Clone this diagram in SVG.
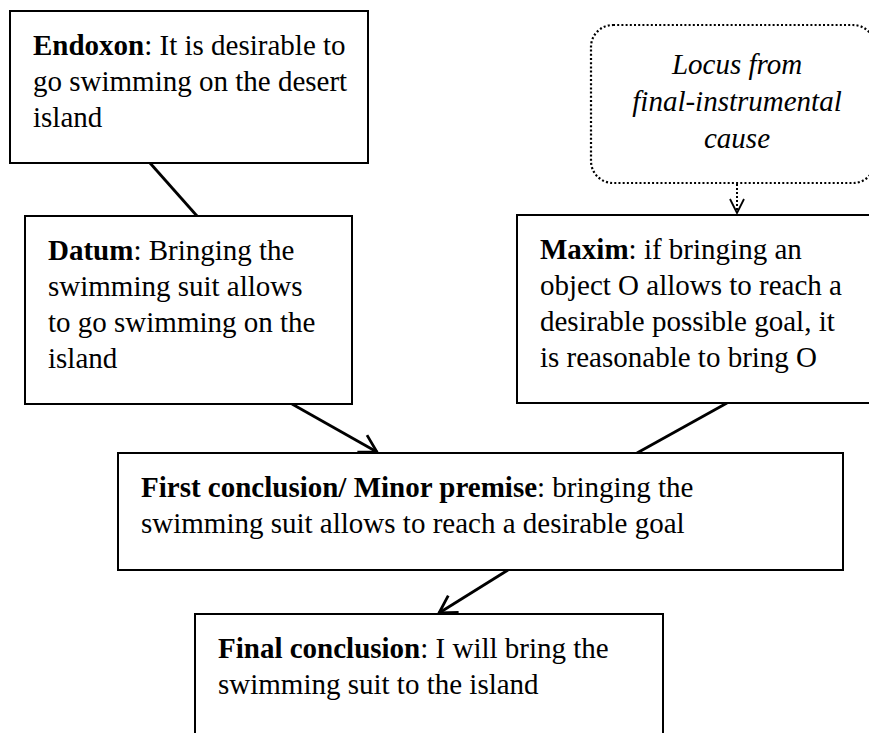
<svg xmlns="http://www.w3.org/2000/svg" width="869" height="733" viewBox="0 0 869 733">
  <style>
    .box { fill: #ffffff; stroke: #000000; stroke-width: 2; }
    .locus { fill: #ffffff; stroke: #000000; stroke-width: 2.2; stroke-dasharray: 2 2.2; }
    .txt { font-family: "Liberation Serif", "Times New Roman", serif; font-size: 29px; fill: #000000; }
    .ital { font-style: italic; text-anchor: middle; }
    .b { font-weight: bold; }
    .link { fill: none; stroke: #000000; stroke-width: 2.8; }
    .dotted { fill: none; stroke: #000000; stroke-width: 2; stroke-dasharray: 2 2; }
  </style>
  <defs>
    <marker id="head" markerUnits="userSpaceOnUse" markerWidth="24" markerHeight="24" viewBox="-20 -12 24 24" refX="0" refY="0" orient="auto">
      <path d="M-17,-9.8 L0,0 L-17,9.8" fill="none" stroke="#000000" stroke-width="2.8"/>
    </marker>
  </defs>

  <rect width="869" height="733" fill="#ffffff"/>

  <!-- connectors -->
  <g id="connectors">
    <line class="link" x1="150" y1="163" x2="197" y2="216"/>
    <line class="link" x1="292" y1="404" x2="377" y2="452" marker-end="url(#head)"/>
    <line class="link" x1="727" y1="403" x2="637" y2="453"/>
    <line class="link" x1="508" y1="570" x2="439" y2="613" marker-end="url(#head)"/>
    <line class="dotted" x1="737" y1="184" x2="737" y2="212"/>
    <path d="M730,199 L737,213 L744,199" fill="none" stroke="#000000" stroke-width="1.8"/>
  </g>

  <g id="endoxon">
    <rect class="box" x="10" y="11" width="358" height="152"/>
    <text class="txt" x="33" y="55"><tspan class="b">Endoxon</tspan>: It is desirable to</text>
    <text class="txt" x="33" y="91">go swimming on the desert</text>
    <text class="txt" x="33" y="127">island</text>
  </g>

  <g id="datum">
    <rect class="box" x="25" y="216" width="327" height="188"/>
    <text class="txt" x="48" y="260"><tspan class="b">Datum</tspan>: Bringing the</text>
    <text class="txt" x="48" y="296">swimming suit allows</text>
    <text class="txt" x="48" y="332">to go swimming on the</text>
    <text class="txt" x="48" y="368">island</text>
  </g>

  <g id="locus">
    <rect class="locus" x="591" y="25" width="284" height="158" rx="22" ry="22"/>
    <text class="txt ital" x="737" y="74">Locus from</text>
    <text class="txt ital" x="737" y="111">final-instrumental</text>
    <text class="txt ital" x="737" y="148">cause</text>
  </g>

  <g id="maxim">
    <rect class="box" x="517" y="215" width="370" height="188"/>
    <text class="txt" x="540" y="259"><tspan class="b">Maxim</tspan>: if bringing an</text>
    <text class="txt" x="540" y="295">object O allows to reach a</text>
    <text class="txt" x="540" y="331">desirable possible goal, it</text>
    <text class="txt" x="540" y="367">is reasonable to bring O</text>
  </g>

  <g id="first-conclusion">
    <rect class="box" x="118" y="453" width="725" height="117"/>
    <text class="txt" x="141" y="497"><tspan class="b">First conclusion/ Minor premise</tspan>: bringing the</text>
    <text class="txt" x="141" y="533">swimming suit allows to reach a desirable goal</text>
  </g>

  <g id="final-conclusion">
    <rect class="box" x="195" y="614" width="468" height="140"/>
    <text class="txt" x="218" y="658"><tspan class="b">Final conclusion</tspan>: I will bring the</text>
    <text class="txt" x="218" y="694">swimming suit to the island</text>
  </g>
</svg>
